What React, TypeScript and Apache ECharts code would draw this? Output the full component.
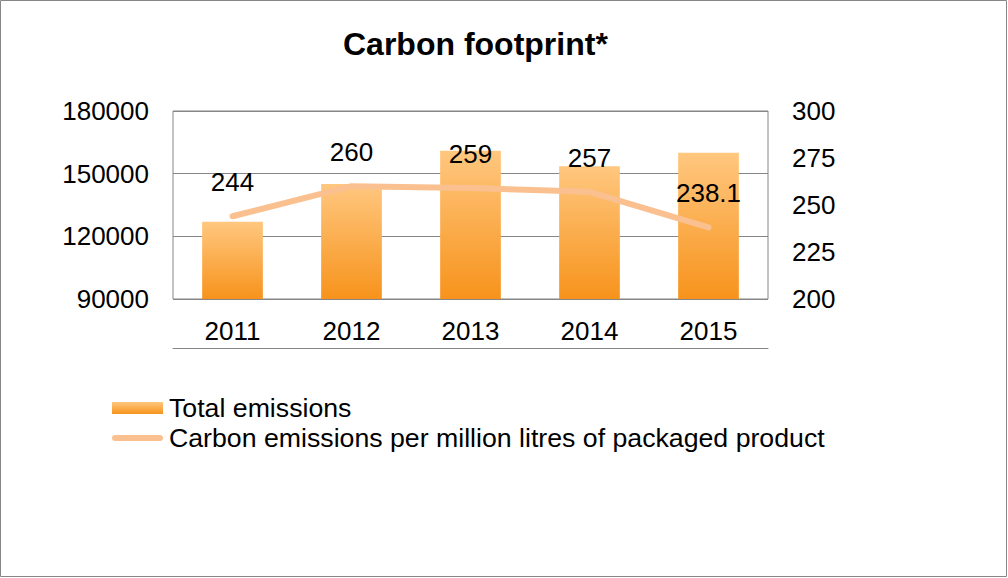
import React, { useEffect, useRef } from "react";
import * as echarts from "echarts";

const categories = ["2011", "2012", "2013", "2014", "2015"];
const totalEmissions = [127000, 145000, 161000, 153500, 160000];
const perMillionLitres = [244, 260, 259, 257, 238.1];
const leftTicks = { min: 90000, max: 180000, interval: 30000 };
const rightTicks = { min: 200, max: 300, interval: 25 };

const FONT = "Liberation Sans";

export default function App() {
  const ref = useRef<HTMLDivElement>(null);
  useEffect(() => {
    if (!ref.current) return;
    const chart = echarts.init(ref.current, undefined, { renderer: "svg" });
    const barGradient = new echarts.graphic.LinearGradient(0, 0, 0, 1, [
      { offset: 0, color: "#FFC77F" },
      { offset: 1, color: "#F7931C" },
    ]);
    chart.setOption({
      animation: false,
      backgroundColor: "#fff",
      textStyle: { fontFamily: FONT },
      title: {
        text: "Carbon footprint*",
        left: 343,
        top: 28,
        padding: 0,
        textStyle: { fontFamily: FONT, fontSize: 32, fontWeight: "bold", color: "#000" },
      },
      graphic: [
        {
          type: "rect",
          shape: { x: 0.5, y: 0.5, width: 1006, height: 576 },
          style: { fill: "none", stroke: "#868686", lineWidth: 1 },
          silent: true,
        },
      ],
      legend: {
        orient: "vertical",
        left: 112,
        top: 393,
        padding: 0,
        itemWidth: 51,
        itemHeight: 12,
        itemGap: 0,
        symbolKeepAspect: true,
        textStyle: {
          fontFamily: FONT,
          fontSize: 26.7,
          lineHeight: 30,
          color: "#000",
          padding: [0, 0, 0, 1],
        },
        data: [
          { name: "Total emissions", icon: "rect" },
          {
            name: "Carbon emissions per million litres of packaged product",
            icon: "path://M3,0 L48,0 A3,3 0 0 1 48,6 L3,6 A3,3 0 0 1 3,0 Z",
            itemStyle: { color: "#FAC08F", opacity: 1 },
          },
        ],
      },
      grid: {
        left: 173,
        right: 240,
        top: 111,
        bottom: 279,
        show: true,
        borderColor: "#868686",
        borderWidth: 1,
        backgroundColor: "transparent",
      },
      xAxis: {
        type: "category",
        data: categories,
        offset: 49,
        axisLine: { show: true, lineStyle: { color: "#868686", width: 1 } },
        axisTick: { show: false },
        axisLabel: {
          inside: true,
          margin: 4,
          fontFamily: FONT,
          fontSize: 26,
          color: "#000",
        },
      },
      yAxis: [
        {
          type: "value",
          min: leftTicks.min,
          max: leftTicks.max,
          interval: leftTicks.interval,
          axisLine: { show: false },
          axisTick: { show: false },
          axisLabel: {
            margin: 24,
            fontFamily: FONT,
            fontSize: 26,
            color: "#000",
            formatter: (v: number) => String(v),
          },
          splitLine: { show: true, lineStyle: { color: "#868686", width: 1 } },
        },
        {
          type: "value",
          min: rightTicks.min,
          max: rightTicks.max,
          interval: rightTicks.interval,
          axisLine: { show: false },
          axisTick: { show: false },
          axisLabel: {
            margin: 24,
            fontFamily: FONT,
            fontSize: 26,
            color: "#000",
            formatter: (v: number) => String(v),
          },
          splitLine: { show: false },
        },
      ],
      series: [
        {
          name: "Total emissions",
          type: "bar",
          data: totalEmissions,
          barWidth: "51%",
          yAxisIndex: 0,
          itemStyle: { color: barGradient },
        },
        {
          name: "Carbon emissions per million litres of packaged product",
          type: "line",
          data: perMillionLitres,
          yAxisIndex: 1,
          symbol: "circle",
          symbolSize: 2,
          showSymbol: true,
          lineStyle: { color: "#FAC08F", width: 6, cap: "round", join: "round" },
          itemStyle: { color: "rgba(250,192,143,0)" },
          label: {
            show: true,
            position: "top",
            distance: 20,
            fontFamily: FONT,
            fontSize: 26,
            color: "#000",
            formatter: (p: any) => String(p.value),
          },
          labelLayout: { hideOverlap: false },
        },
      ],
    });
    return () => chart.dispose();
  }, []);
  return (
    <div
      ref={ref}
      style={{ position: "fixed", left: 0, top: 0, width: 1008, height: 578 }}
    />
  );
}
